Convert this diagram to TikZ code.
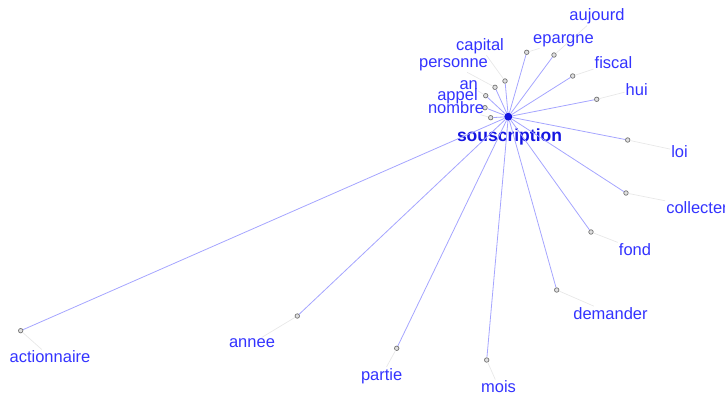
\documentclass[tikz,border=0pt]{standalone}
\usepackage{fontspec}
\setmainfont{Liberation Sans}

\definecolor{wordblue}{RGB}{51,51,255}
\definecolor{hubblue}{RGB}{20,20,225}
\definecolor{edgeblue}{RGB}{165,165,255}
\definecolor{tickgray}{RGB}{232,232,232}

\tikzset{
  leaf/.style={circle, draw=black!55, fill=black!12, line width=0.7pt, inner sep=0pt, minimum size=4.5pt},
  hub/.style={circle, fill=hubblue, inner sep=0pt, minimum size=8pt},
  word/.style={text=wordblue, font=\fontsize{16.5}{18}\selectfont, inner sep=1pt, anchor=base},
  hubword/.style={text=hubblue, font=\fontsize{17.5}{19}\bfseries, inner sep=1pt, anchor=base},
  edge/.style={draw=edgeblue, line width=0.8pt},
  tick/.style={draw=tickgray, line width=0.7pt}
}

\begin{document}
\begin{tikzpicture}[x=1pt, y=-1pt]
  \useasboundingbox (0,0) rectangle (725,396);

  % Mot central
  \node[hub] (c) at (508.3,116.7) {};
  \node[hubword] (cw) at (509.5,141.7) {souscription};

  % Mots associes : nom / point / position du texte
  \foreach \w/\dx/\dy/\lx/\ly in {
      aujourd/554/55/597/21,
      epargne/526.7/52.3/563.5/43.7,
      capital/505/81/480/50.7,
      personne/495/87.3/453.5/67.7,
      an/485.7/95.7/468.7/89.3,
      appel/485/107.7/457.5/100.7,
      nombre/490.7/117.7/456/113.3,
      fiscal/572.7/76/613.5/68.3,
      hui/596.7/99.3/636.7/95,
      loi/627.7/140/679.5/157,
      collecter/626/193/697/213,
      fond/591/232/635/255,
      demander/556.7/290/610.5/319.3,
      mois/486.7/360/498.5/392.7,
      partie/396.7/348.3/381.7/380,
      annee/297.3/316/252/347.7,
      actionnaire/20.7/330.7/50/362.7}
  {
    \node[leaf] (d-\w) at (\dx,\dy) {};
    \node[word] (l-\w) at (\lx,\ly) {\w};
    \draw[edge] (c) -- (d-\w);
    \draw[tick] (d-\w) -- (l-\w);
  }
\end{tikzpicture}
\end{document}
